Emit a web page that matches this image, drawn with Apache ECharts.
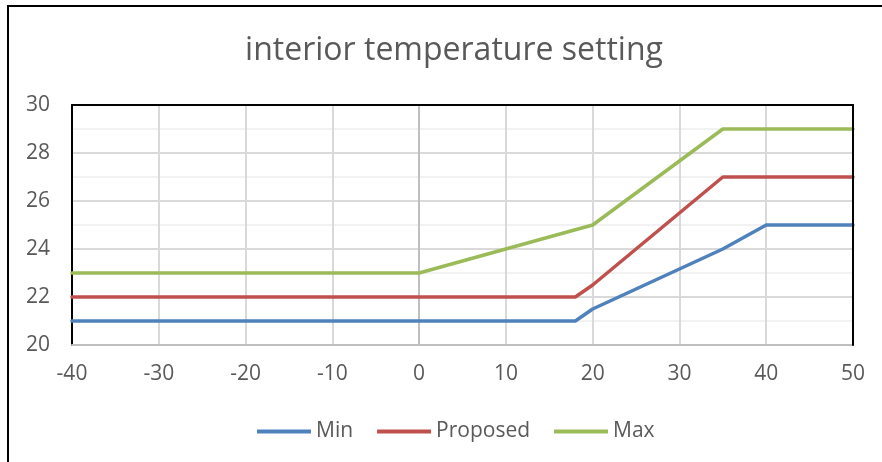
<!DOCTYPE html>
<html>
<head>
<meta charset="utf-8">
<script src="https://cdn.jsdelivr.net/npm/echarts@6/dist/echarts.min.js"></script>
<style>
html,body{margin:0;padding:0;background:#fff;}
#c{width:882px;height:462px;}
</style>
</head>
<body>
<div id="c"></div>
<script>
const titleText = 'interior temperature setting';
const xValues = [-40, 0, 18, 20, 35, 40, 50];
const minValues = [21, 21, 21, 21.5, 24, 25, 25];
const proposedValues = [22, 22, 22, 22.5, 27, 27, 27];
const maxValues = [23, 23, 24.8, 25, 29, 29, 29];
const seriesNames = ['Min', 'Proposed', 'Max'];
const colors = ['#4f81bd', '#c0504d', '#9bbb59'];

const FONT = '"Open Sans", sans-serif';
const pairs = ys => xValues.map((x, i) => [x, ys[i]]);
const allValues = [minValues, proposedValues, maxValues];

const chart = echarts.init(document.getElementById('c'), null, {renderer: 'canvas'});
chart.setOption({
  animation: false,
  backgroundColor: '#fff',
  color: colors,
  title: {
    text: titleText,
    left: 449, top: 30, textAlign: 'center',
    textStyle: {fontFamily: FONT, fontSize: 32, fontWeight: 'normal', color: '#595959'}
  },
  legend: {
    data: seriesNames,
    left: 257, top: 421, padding: 0,
    itemWidth: 54, itemHeight: 4, itemGap: 24,
    icon: 'rect',
    textStyle: {fontFamily: FONT, fontSize: 21, color: '#595959'}
  },
  graphic: [{
    type: 'rect', shape: {x: 8, y: 6, width: 900, height: 500},
    style: {fill: 'none', stroke: '#000', lineWidth: 2}, silent: true, z: 10
  }],
  grid: {
    left: 72, right: 29, top: 105, bottom: 117
  },
  xAxis: [{
    type: 'value', min: -40, max: 50, interval: 10,
    axisLine: {show: true, onZero: false, lineStyle: {color: '#bfbfbf', width: 2}},
    axisTick: {show: false},
    axisLabel: {fontFamily: FONT, fontSize: 21, color: '#595959', margin: 19},
    splitLine: {show: true, showMinLine: false, showMaxLine: false, lineStyle: {color: '#d9d9d9', width: 2}}
  }, {
    type: 'value', position: 'top', min: -40, max: 50, interval: 10, z: 6,
    axisLine: {show: true, onZero: false, lineStyle: {color: '#000', width: 2}},
    axisTick: {show: false}, axisLabel: {show: false}, splitLine: {show: false}
  }],
  yAxis: [{
    type: 'value', min: 20, max: 30, interval: 2,
    axisLine: {show: true, onZero: false, lineStyle: {color: '#000', width: 2}},
    axisTick: {show: false},
    axisLabel: {fontFamily: FONT, fontSize: 21, color: '#595959', margin: 22},
    splitLine: {show: true, showMinLine: false, showMaxLine: false, lineStyle: {color: '#d9d9d9', width: 2}},
    minorTick: {show: false, splitNumber: 2},
    minorSplitLine: {show: true, lineStyle: {color: '#f2f2f2', width: 2}}
  }, {
    type: 'value', position: 'right', min: 20, max: 30, interval: 2, z: 6,
    axisLine: {show: true, onZero: false, lineStyle: {color: '#000', width: 2}},
    axisTick: {show: false}, axisLabel: {show: false}, splitLine: {show: false}
  }],
  series: seriesNames.map((n, i) => ({
    name: n, type: 'line', data: pairs(allValues[i]),
    xAxisIndex: 0, yAxisIndex: 0,
    showSymbol: false, symbol: 'none',
    lineStyle: {width: 3.5, color: colors[i], cap: 'round', join: 'round'},
    z: 3 + i,
    markLine: i === 0 ? {
      silent: true, symbol: 'none', label: {show: false},
      lineStyle: {color: '#bfbfbf', width: 2, type: 'solid'},
      data: [{xAxis: 0}], z: 1
    } : undefined
  }))
});
</script>
</body>
</html>
